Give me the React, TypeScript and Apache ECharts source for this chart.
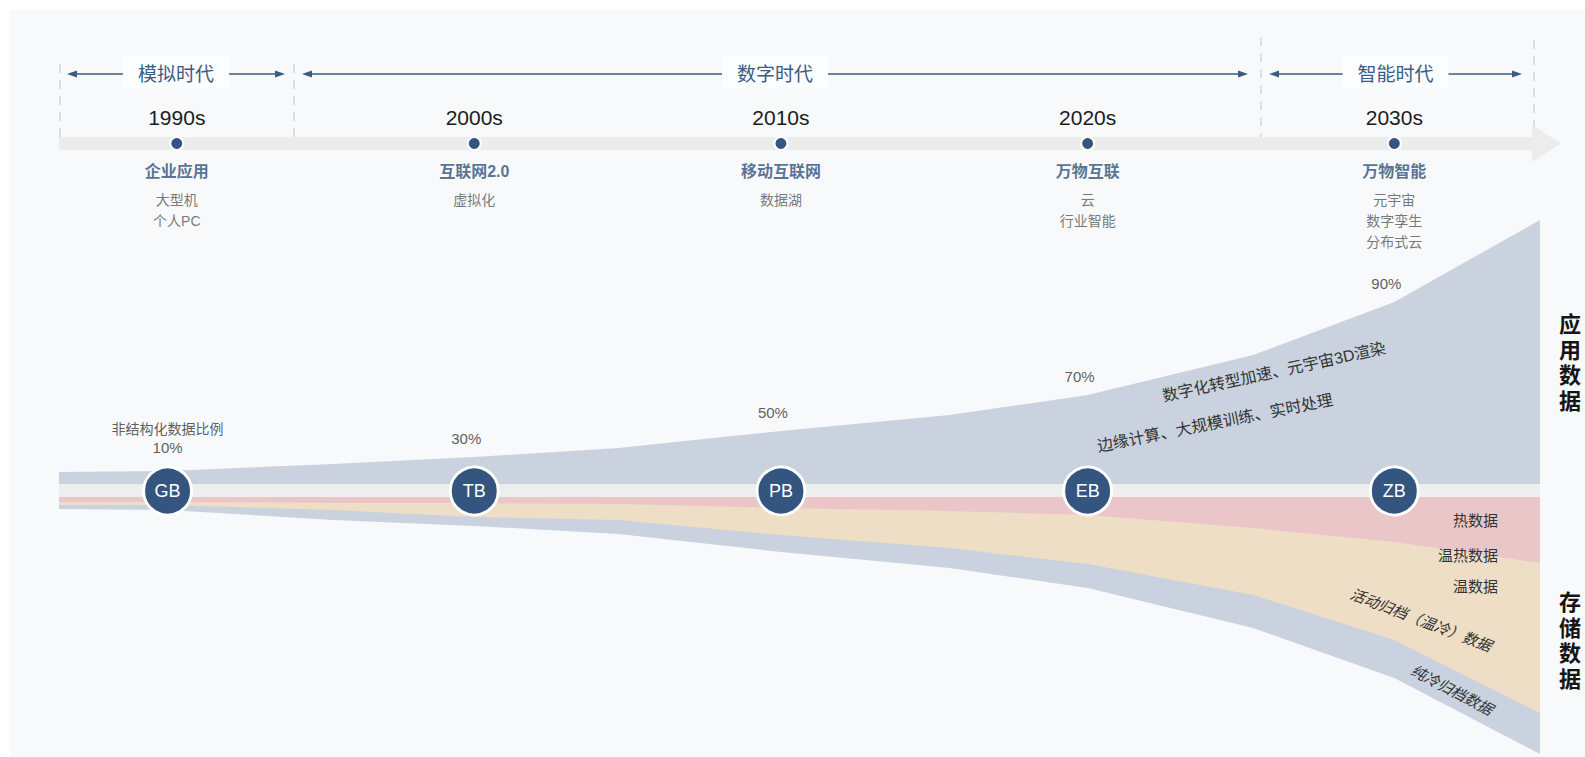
import React, { useEffect, useRef } from 'react';
import * as echarts from 'echarts';

// ---------- data ----------
const decadeLabels = ['1990s', '2000s', '2010s', '2020s', '2030s'];
const timelineYears = [1990.3, 2000, 2010, 2020, 2030];
const stageNames = ['企业应用', '互联网2.0', '移动互联网', '万物互联', '万物智能'];
const stageDetails = [['大型机', '个人PC'], ['虚拟化'], ['数据湖'], ['云', '行业智能'], ['元宇宙', '数字孪生', '分布式云']];
const eraNames = ['模拟时代', '数字时代', '智能时代'];

const scaleUnits = ['GB', 'TB', 'PB', 'EB', 'ZB'];
const scaleYears = [1990, 2000, 2010, 2020, 2030];
const unstructuredShare = ['10%', '30%', '50%', '70%', '90%'];
const shareIndex = [1, 3, 5, 7, 9];

const bandYears = [1986.46, 1990, 1995.4, 2000, 2004.7, 2010, 2015.5, 2020, 2025.4, 2030, 2034.75];
const separatorBand = [13, 13, 13, 13, 13, 13, 13, 13, 13, 13, 13];
const applicationData = [12, 13, 20, 27, 36, 53, 69, 89, 129, 182, 264];
const hotData = [5, 5, 6, 6, 7, 11, 14, 18, 31, 45, 66];
const warmData = [3, 3, 7, 14, 16, 27, 37, 49, 67, 98, 150];
const coldArchive = [4, 5, 10, 9, 14, 17, 20, 24, 33, 38, 41];

const bandTexts = ['数字化转型加速、元宇宙3D渲染', '边缘计算、大规模训练、实时处理'];
const storageTiers = ['热数据', '温热数据', '温数据'];
const archiveTiers = ['活动归档（温冷）数据', '纯冷归档数据'];

// ---------- styles ----------
const FONT = "'Liberation Sans', 'Noto Sans CJK SC', sans-serif";
const DARK_BLUE = '#34557f';
const ERA_BLUE = '#3b5b82';
const STAGE_BLUE = '#2f4f78';
const BAND_BLUE = '#c9d2de';

const xMin = bandYears[0];
const xMax = bandYears[bandYears.length - 1];

// cumulative boundaries (areas are drawn from the centre line outward, inner layers on top)
const appTop = applicationData.map((v, i) => v + separatorBand[i]);
const hotBottom = hotData.map((v) => -v);
const warmBottom = warmData.map((v, i) => -(v + hotData[i]));
const coldBottom = coldArchive.map((v, i) => -(v + warmData[i] + hotData[i]));

function bandSeries(name: string, values: number[], color: string) {
  return {
    type: 'line',
    name,
    xAxisIndex: 1,
    yAxisIndex: 1,
    silent: true,
    showSymbol: false,
    symbol: 'none',
    smooth: false,
    lineStyle: { width: 0, opacity: 0 },
    areaStyle: { color, opacity: 1, origin: 'auto' },
    data: bandYears.map((x, i) => [x, values[i]]),
    z: 2,
  };
}

function buildGraphic() {
  const els: any[] = [];
  els.push({ type: 'rect', z: -10, silent: true, shape: { x: 10, y: 10, width: 1575, height: 747 }, style: { fill: '#f7f9fb' } });

  const dashes = [
    { x: 60, y1: 64 }, { x: 294, y1: 64 }, { x: 1261, y1: 37 }, { x: 1534, y1: 40 },
  ];
  dashes.forEach((d) =>
    els.push({ type: 'line', z: 1, silent: true, shape: { x1: d.x, y1: d.y1, x2: d.x, y2: 137 }, style: { stroke: '#d3d6da', lineWidth: 1.5, lineDash: [9, 7] } })
  );

  const eraStart = [67, 302, 1269];
  const eraEnd = [285, 1248, 1522];
  const gap = 53;
  const ay = 74;
  eraNames.forEach((name, i) => {
    const cx = (eraStart[i] + eraEnd[i]) / 2;
    els.push({ type: 'rect', z: 1, silent: true, shape: { x: cx - gap, y: 56, width: gap * 2, height: 33 }, style: { fill: '#fcfdfe' } });
    els.push({ type: 'line', z: 2, silent: true, shape: { x1: eraStart[i] + 6, y1: ay, x2: cx - gap, y2: ay }, style: { stroke: ERA_BLUE, lineWidth: 1.5 } });
    els.push({ type: 'line', z: 2, silent: true, shape: { x1: cx + gap, y1: ay, x2: eraEnd[i] - 6, y2: ay }, style: { stroke: ERA_BLUE, lineWidth: 1.5 } });
    els.push({ type: 'polygon', z: 2, silent: true, shape: { points: [[eraStart[i], ay], [eraStart[i] + 10, ay - 3.5], [eraStart[i] + 10, ay + 3.5]] }, style: { fill: ERA_BLUE } });
    els.push({ type: 'polygon', z: 2, silent: true, shape: { points: [[eraEnd[i], ay], [eraEnd[i] - 10, ay - 3.5], [eraEnd[i] - 10, ay + 3.5]] }, style: { fill: ERA_BLUE } });
    els.push({ type: 'text', z: 3, silent: true, x: cx, y: ay, style: { text: name, fill: ERA_BLUE, fontSize: 19, fontFamily: FONT, textAlign: 'center', textVerticalAlign: 'middle' } });
  });

  els.push({ type: 'rect', z: 1, silent: true, shape: { x: 59, y: 137, width: 1473, height: 13 }, style: { fill: '#ececec' } });
  els.push({ type: 'polygon', z: 1, silent: true, shape: { points: [[1532, 125], [1561, 143.5], [1532, 162]] }, style: { fill: '#ececec' } });

  const textStyle = { fill: '#333', fontSize: 16, fontFamily: FONT, textAlign: 'center', textVerticalAlign: 'middle' };
  els.push({ type: 'text', z: 100, silent: true, x: 1274, y: 372, rotation: (12.3 * Math.PI) / 180, style: { ...textStyle, text: bandTexts[0] } });
  els.push({ type: 'text', z: 100, silent: true, x: 1215, y: 423, rotation: (11.3 * Math.PI) / 180, style: { ...textStyle, text: bandTexts[1] } });

  const tierY = [520, 555, 586];
  storageTiers.forEach((t, i) =>
    els.push({ type: 'text', z: 100, silent: true, x: 1498, y: tierY[i], style: { ...textStyle, fontSize: 15, textAlign: 'right', text: t } })
  );
  els.push({ type: 'text', z: 100, silent: true, x: 1421, y: 620, rotation: (-21 * Math.PI) / 180, style: { ...textStyle, fontSize: 15, fontStyle: 'italic', text: archiveTiers[0] } });
  els.push({ type: 'text', z: 100, silent: true, x: 1452, y: 690, rotation: (-27.5 * Math.PI) / 180, style: { ...textStyle, fontSize: 15, fontStyle: 'italic', text: archiveTiers[1] } });

  const vt = { fill: '#151515', fontSize: 22, fontWeight: 'bold', fontFamily: FONT, textAlign: 'center', textVerticalAlign: 'middle', lineHeight: 25.5 };
  els.push({ type: 'text', z: 100, silent: true, x: 1570, y: 363, style: { ...vt, text: '应\n用\n数\n据' } });
  els.push({ type: 'text', z: 100, silent: true, x: 1570, y: 641, style: { ...vt, text: '存\n储\n数\n据' } });
  return els;
}

function buildOption() {
  return {
    animation: false,
    backgroundColor: '#ffffff',
    grid: [
      { left: 59, width: 1481, top: 137, height: 13 },
      { left: 59, width: 1481, top: 200, height: 557 },
    ],
    xAxis: [
      { type: 'value', gridIndex: 0, min: xMin, max: xMax, show: false },
      { type: 'value', gridIndex: 1, min: xMin, max: xMax, show: false },
    ],
    yAxis: [
      { type: 'value', gridIndex: 0, min: 0, max: 1, show: false },
      { type: 'value', gridIndex: 1, min: -260, max: 297, show: false },
    ],
    graphic: { elements: buildGraphic() },
    series: [
      {
        type: 'scatter',
        xAxisIndex: 0,
        yAxisIndex: 0,
        silent: true,
        symbolSize: 13,
        itemStyle: { color: DARK_BLUE, borderColor: '#ffffff', borderWidth: 2, opacity: 1 },
        label: { show: true, position: 'inside', offset: [0, -26], fontSize: 21, color: '#1c1c1c', fontFamily: FONT, formatter: (p: any) => decadeLabels[p.dataIndex] },
        data: timelineYears.map((y) => [y, 0.5]),
        z: 5,
      },
      {
        type: 'scatter',
        xAxisIndex: 0,
        yAxisIndex: 0,
        silent: true,
        symbolSize: 1,
        itemStyle: { color: 'rgba(0,0,0,0)' },
        label: {
          show: true,
          position: 'bottom',
          distance: 10,
          align: 'center',
          fontFamily: FONT,
          formatter: (p: any) => ['{t|' + stageNames[p.dataIndex] + '}', ...stageDetails[p.dataIndex].map((s) => '{s|' + s + '}')].join('\n'),
          rich: {
            t: { fontSize: 16, fontWeight: 'bold', color: STAGE_BLUE, lineHeight: 35, fontFamily: FONT, align: 'center' },
            s: { fontSize: 14, color: '#555', lineHeight: 21, fontFamily: FONT, align: 'center' },
          },
        },
        data: timelineYears.map((y) => [y, 0.5]),
        z: 5,
      },
      bandSeries('应用数据', appTop, BAND_BLUE),
      bandSeries('separator', separatorBand, '#eeeeee'),
      bandSeries('纯冷归档数据', coldBottom, BAND_BLUE),
      bandSeries('温数据', warmBottom, '#eddec5'),
      bandSeries('热数据', hotBottom, '#ebc6c9'),
      {
        type: 'scatter',
        xAxisIndex: 1,
        yAxisIndex: 1,
        silent: true,
        symbolSize: 1,
        itemStyle: { color: 'rgba(0,0,0,0)' },
        data: scaleYears.map((x, i) => {
          const top = appTop[shareIndex[i]];
          if (i === 0) {
            return {
              value: [x, top],
              label: {
                show: true,
                position: 'inside',
                offset: [0, -33],
                formatter: '{a|非结构化数据比例}\n{b|' + unstructuredShare[0] + '}',
                rich: {
                  a: { fontSize: 14, color: '#333', lineHeight: 19, fontFamily: FONT, align: 'center' },
                  b: { fontSize: 15, color: '#333', lineHeight: 19, fontFamily: FONT, align: 'center' },
                },
              },
            };
          }
          return {
            value: [x, top],
            label: { show: true, position: 'inside', offset: [-8, -19], formatter: unstructuredShare[i], fontSize: 15, color: '#333', fontFamily: FONT },
          };
        }),
        z: 6,
      },
      {
        type: 'scatter',
        xAxisIndex: 1,
        yAxisIndex: 1,
        silent: true,
        symbolSize: 48,
        itemStyle: { color: DARK_BLUE, borderColor: '#ffffff', borderWidth: 3, opacity: 1 },
        label: { show: true, position: 'inside', color: '#ffffff', fontSize: 18, fontFamily: FONT, formatter: (p: any) => scaleUnits[p.dataIndex] },
        data: scaleYears.map((x) => [x, 6]),
        z: 7,
      },
    ],
  };
}

export default function App() {
  const ref = useRef<HTMLDivElement>(null);
  useEffect(() => {
    if (!ref.current) return;
    const chart = echarts.init(ref.current, null, { renderer: 'svg' });
    chart.setOption(buildOption() as any);
    return () => chart.dispose();
  }, []);
  return <div ref={ref} style={{ position: 'fixed', left: 0, top: 0, width: 1585, height: 757 }} />;
}
